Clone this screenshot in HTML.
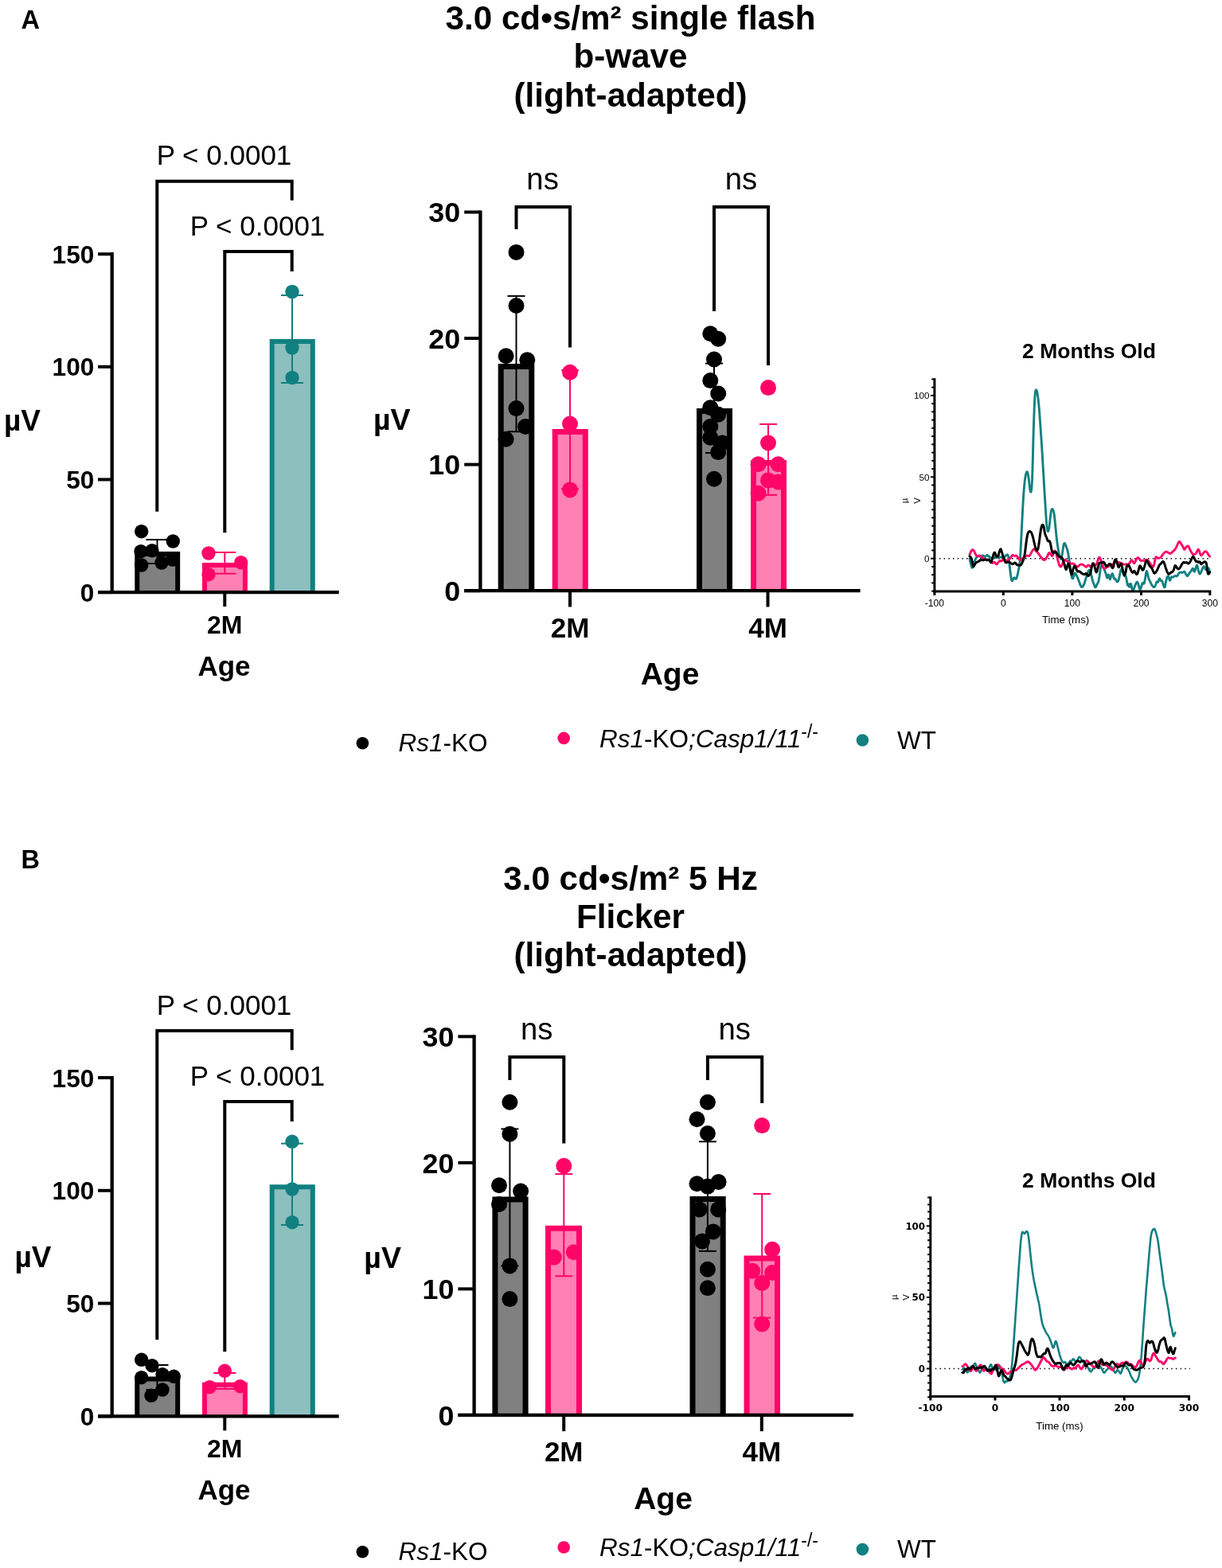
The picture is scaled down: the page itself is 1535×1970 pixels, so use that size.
<!DOCTYPE html>
<html lang="en">
<head>
<meta charset="utf-8">
<title>Light-adapted ERG: single flash b-wave and 5 Hz flicker</title>
<style>
html,body{margin:0;padding:0;background:#fff;}
body{width:1535px;height:1970px;overflow:hidden;}
svg{display:block;font-family:"Liberation Sans",Arial,Helvetica,sans-serif;}
.dv{font-family:"DejaVu Sans","Liberation Sans",sans-serif;}
</style>
</head>
<body>
<svg width="1535" height="1970" viewBox="0 0 1535 1970">
<rect x="0" y="0" width="1535" height="1970" fill="#fff"/>
<text x="26.50" y="36.00" font-size="32.5" font-weight="bold" font-style="normal" text-anchor="start" fill="#000" >A</text>
<text x="26.50" y="1091.00" font-size="32.5" font-weight="bold" font-style="normal" text-anchor="start" fill="#000" >B</text>
<text x="792.00" y="37.00" font-size="42.2" font-weight="bold" font-style="normal" text-anchor="middle" fill="#000" >3.0 cd•s/m² single flash</text>
<text x="792.00" y="85.00" font-size="42.2" font-weight="bold" font-style="normal" text-anchor="middle" fill="#000" >b-wave</text>
<text x="792.00" y="133.50" font-size="42.2" font-weight="bold" font-style="normal" text-anchor="middle" fill="#000" >(light-adapted)</text>
<text x="792.00" y="1117.50" font-size="42.2" font-weight="bold" font-style="normal" text-anchor="middle" fill="#000" >3.0 cd•s/m² 5 Hz</text>
<text x="792.00" y="1165.50" font-size="42.2" font-weight="bold" font-style="normal" text-anchor="middle" fill="#000" >Flicker</text>
<text x="792.00" y="1214.00" font-size="42.2" font-weight="bold" font-style="normal" text-anchor="middle" fill="#000" >(light-adapted)</text>
<rect x="172.30" y="696.00" width="50.90" height="48.10" fill="#808080"/>
<path d="M172.30 744.10 V696.00 H223.20 V744.10" fill="none" stroke="#000" stroke-width="6" stroke-linejoin="miter"/>
<rect x="257.00" y="710.00" width="50.90" height="34.10" fill="#FF80B2"/>
<path d="M257.00 744.10 V710.00 H307.90 V744.10" fill="none" stroke="#FF0568" stroke-width="6" stroke-linejoin="miter"/>
<rect x="341.70" y="429.00" width="51.10" height="315.10" fill="#8CC0BF"/>
<path d="M341.70 744.10 V429.00 H392.80 V744.10" fill="none" stroke="#128080" stroke-width="6" stroke-linejoin="miter"/>
<line x1="140.70" y1="317.10" x2="140.70" y2="744.10" stroke="#000" stroke-width="4.3" stroke-linecap="butt"/>
<line x1="123.00" y1="744.10" x2="425.70" y2="744.10" stroke="#000" stroke-width="4.3" stroke-linecap="butt"/>
<line x1="123.00" y1="744.10" x2="140.70" y2="744.10" stroke="#000" stroke-width="4" stroke-linecap="butt"/>
<text x="118.30" y="755.60" font-size="31.6" font-weight="bold" font-style="normal" text-anchor="end" fill="#000" >0</text>
<line x1="123.00" y1="602.47" x2="140.70" y2="602.47" stroke="#000" stroke-width="4" stroke-linecap="butt"/>
<text x="118.30" y="613.97" font-size="31.6" font-weight="bold" font-style="normal" text-anchor="end" fill="#000" >50</text>
<line x1="123.00" y1="460.83" x2="140.70" y2="460.83" stroke="#000" stroke-width="4" stroke-linecap="butt"/>
<text x="118.30" y="472.33" font-size="31.6" font-weight="bold" font-style="normal" text-anchor="end" fill="#000" >100</text>
<line x1="123.00" y1="319.20" x2="140.70" y2="319.20" stroke="#000" stroke-width="4" stroke-linecap="butt"/>
<text x="118.30" y="330.70" font-size="31.6" font-weight="bold" font-style="normal" text-anchor="end" fill="#000" >150</text>
<line x1="282.30" y1="744.10" x2="282.30" y2="762.10" stroke="#000" stroke-width="4" stroke-linecap="butt"/>
<text x="282.30" y="796.00" font-size="32" font-weight="bold" font-style="normal" text-anchor="middle" fill="#000" >2M</text>
<text x="281.50" y="848.50" font-size="35" font-weight="bold" font-style="normal" text-anchor="middle" fill="#000" >Age</text>
<text x="5.00" y="540.50" font-size="37" font-weight="bold" font-style="normal" text-anchor="start" fill="#000" >µV</text>
<line x1="197.50" y1="678.00" x2="197.50" y2="708.00" stroke="#000" stroke-width="2" stroke-linecap="butt"/>
<line x1="183.50" y1="678.00" x2="211.50" y2="678.00" stroke="#000" stroke-width="2" stroke-linecap="butt"/>
<line x1="183.50" y1="708.00" x2="211.50" y2="708.00" stroke="#000" stroke-width="2" stroke-linecap="butt"/>
<line x1="282.30" y1="694.00" x2="282.30" y2="720.70" stroke="#FF0568" stroke-width="2" stroke-linecap="butt"/>
<line x1="268.30" y1="694.00" x2="296.30" y2="694.00" stroke="#FF0568" stroke-width="2" stroke-linecap="butt"/>
<line x1="268.30" y1="720.70" x2="296.30" y2="720.70" stroke="#FF0568" stroke-width="2" stroke-linecap="butt"/>
<line x1="367.00" y1="371.00" x2="367.00" y2="481.00" stroke="#128080" stroke-width="2" stroke-linecap="butt"/>
<line x1="353.00" y1="371.00" x2="381.00" y2="371.00" stroke="#128080" stroke-width="2" stroke-linecap="butt"/>
<line x1="353.00" y1="481.00" x2="381.00" y2="481.00" stroke="#128080" stroke-width="2" stroke-linecap="butt"/>
<circle cx="177.70" cy="667.70" r="8.7" fill="#000"/>
<circle cx="217.30" cy="680.00" r="8.7" fill="#000"/>
<circle cx="177.00" cy="692.70" r="8.7" fill="#000"/>
<circle cx="191.00" cy="691.70" r="8.7" fill="#000"/>
<circle cx="177.70" cy="710.00" r="8.7" fill="#000"/>
<circle cx="203.00" cy="707.00" r="8.7" fill="#000"/>
<circle cx="216.70" cy="703.00" r="8.7" fill="#000"/>
<circle cx="262.00" cy="695.00" r="8.7" fill="#FF0568"/>
<circle cx="302.70" cy="706.70" r="8.7" fill="#FF0568"/>
<circle cx="262.00" cy="721.70" r="8.7" fill="#FF0568"/>
<circle cx="367.00" cy="366.50" r="8.7" fill="#128080"/>
<circle cx="367.00" cy="437.00" r="8.7" fill="#128080"/>
<circle cx="367.00" cy="474.50" r="8.7" fill="#128080"/>
<path d="M197.30 642.70 V227.70 H366.70 V251.70" fill="none" stroke="#000" stroke-width="4" stroke-linejoin="miter"/>
<text x="281.50" y="207.30" font-size="35" font-weight="normal" font-style="normal" text-anchor="middle" fill="#000" >P &lt; 0.0001</text>
<path d="M282.30 669.30 V316.00 H366.70 V341.00" fill="none" stroke="#000" stroke-width="4" stroke-linejoin="miter"/>
<text x="323.50" y="296.00" font-size="35" font-weight="normal" font-style="normal" text-anchor="middle" fill="#000" >P &lt; 0.0001</text>
<rect x="172.30" y="1732.50" width="50.90" height="46.80" fill="#808080"/>
<path d="M172.30 1779.30 V1732.50 H223.20 V1779.30" fill="none" stroke="#000" stroke-width="6" stroke-linejoin="miter"/>
<rect x="257.00" y="1739.70" width="50.90" height="39.60" fill="#FF80B2"/>
<path d="M257.00 1779.30 V1739.70 H307.90 V1779.30" fill="none" stroke="#FF0568" stroke-width="6" stroke-linejoin="miter"/>
<rect x="341.70" y="1491.30" width="51.10" height="288.00" fill="#8CC0BF"/>
<path d="M341.70 1779.30 V1491.30 H392.80 V1779.30" fill="none" stroke="#128080" stroke-width="6" stroke-linejoin="miter"/>
<line x1="140.70" y1="1351.90" x2="140.70" y2="1779.30" stroke="#000" stroke-width="4.3" stroke-linecap="butt"/>
<line x1="123.00" y1="1779.30" x2="425.70" y2="1779.30" stroke="#000" stroke-width="4.3" stroke-linecap="butt"/>
<line x1="123.00" y1="1779.30" x2="140.70" y2="1779.30" stroke="#000" stroke-width="4" stroke-linecap="butt"/>
<text x="118.30" y="1790.80" font-size="31.6" font-weight="bold" font-style="normal" text-anchor="end" fill="#000" >0</text>
<line x1="123.00" y1="1637.53" x2="140.70" y2="1637.53" stroke="#000" stroke-width="4" stroke-linecap="butt"/>
<text x="118.30" y="1649.03" font-size="31.6" font-weight="bold" font-style="normal" text-anchor="end" fill="#000" >50</text>
<line x1="123.00" y1="1495.77" x2="140.70" y2="1495.77" stroke="#000" stroke-width="4" stroke-linecap="butt"/>
<text x="118.30" y="1507.27" font-size="31.6" font-weight="bold" font-style="normal" text-anchor="end" fill="#000" >100</text>
<line x1="123.00" y1="1354.00" x2="140.70" y2="1354.00" stroke="#000" stroke-width="4" stroke-linecap="butt"/>
<text x="118.30" y="1365.50" font-size="31.6" font-weight="bold" font-style="normal" text-anchor="end" fill="#000" >150</text>
<line x1="282.30" y1="1779.30" x2="282.30" y2="1797.30" stroke="#000" stroke-width="4" stroke-linecap="butt"/>
<text x="282.30" y="1831.00" font-size="32" font-weight="bold" font-style="normal" text-anchor="middle" fill="#000" >2M</text>
<text x="281.50" y="1883.50" font-size="35" font-weight="bold" font-style="normal" text-anchor="middle" fill="#000" >Age</text>
<text x="18.50" y="1591.50" font-size="37" font-weight="bold" font-style="normal" text-anchor="start" fill="#000" >µV</text>
<line x1="197.50" y1="1715.00" x2="197.50" y2="1746.00" stroke="#000" stroke-width="2" stroke-linecap="butt"/>
<line x1="183.50" y1="1715.00" x2="211.50" y2="1715.00" stroke="#000" stroke-width="2" stroke-linecap="butt"/>
<line x1="183.50" y1="1746.00" x2="211.50" y2="1746.00" stroke="#000" stroke-width="2" stroke-linecap="butt"/>
<line x1="282.30" y1="1725.00" x2="282.30" y2="1745.00" stroke="#FF0568" stroke-width="2" stroke-linecap="butt"/>
<line x1="268.30" y1="1725.00" x2="296.30" y2="1725.00" stroke="#FF0568" stroke-width="2" stroke-linecap="butt"/>
<line x1="268.30" y1="1745.00" x2="296.30" y2="1745.00" stroke="#FF0568" stroke-width="2" stroke-linecap="butt"/>
<line x1="367.00" y1="1436.70" x2="367.00" y2="1539.00" stroke="#128080" stroke-width="2" stroke-linecap="butt"/>
<line x1="353.00" y1="1436.70" x2="381.00" y2="1436.70" stroke="#128080" stroke-width="2" stroke-linecap="butt"/>
<line x1="353.00" y1="1539.00" x2="381.00" y2="1539.00" stroke="#128080" stroke-width="2" stroke-linecap="butt"/>
<circle cx="177.70" cy="1708.30" r="8.7" fill="#000"/>
<circle cx="191.00" cy="1715.70" r="8.7" fill="#000"/>
<circle cx="177.70" cy="1730.70" r="8.7" fill="#000"/>
<circle cx="204.00" cy="1726.70" r="8.7" fill="#000"/>
<circle cx="218.30" cy="1729.30" r="8.7" fill="#000"/>
<circle cx="204.00" cy="1746.00" r="8.7" fill="#000"/>
<circle cx="190.00" cy="1753.30" r="8.7" fill="#000"/>
<circle cx="282.30" cy="1722.30" r="8.7" fill="#FF0568"/>
<circle cx="263.30" cy="1742.70" r="8.7" fill="#FF0568"/>
<circle cx="301.70" cy="1741.70" r="8.7" fill="#FF0568"/>
<circle cx="367.00" cy="1434.30" r="8.7" fill="#128080"/>
<circle cx="367.00" cy="1494.00" r="8.7" fill="#128080"/>
<circle cx="367.00" cy="1535.70" r="8.7" fill="#128080"/>
<path d="M197.30 1683.30 V1295.00 H366.70 V1319.30" fill="none" stroke="#000" stroke-width="4" stroke-linejoin="miter"/>
<text x="281.50" y="1275.00" font-size="35" font-weight="normal" font-style="normal" text-anchor="middle" fill="#000" >P &lt; 0.0001</text>
<path d="M282.30 1698.30 V1384.00 H366.70 V1409.00" fill="none" stroke="#000" stroke-width="4" stroke-linejoin="miter"/>
<text x="323.50" y="1364.00" font-size="35" font-weight="normal" font-style="normal" text-anchor="middle" fill="#000" >P &lt; 0.0001</text>
<rect x="629.20" y="460.50" width="38.60" height="281.70" fill="#808080"/>
<path d="M629.20 742.20 V460.50 H667.80 V742.20" fill="none" stroke="#000" stroke-width="7" stroke-linejoin="miter"/>
<rect x="697.20" y="542.50" width="38.10" height="199.70" fill="#FF80B2"/>
<path d="M697.20 742.20 V542.50 H735.30 V742.20" fill="none" stroke="#FF0568" stroke-width="7" stroke-linejoin="miter"/>
<rect x="878.50" y="516.50" width="38.00" height="225.70" fill="#808080"/>
<path d="M878.50 742.20 V516.50 H916.50 V742.20" fill="none" stroke="#000" stroke-width="7" stroke-linejoin="miter"/>
<rect x="946.50" y="581.50" width="38.00" height="160.70" fill="#FF80B2"/>
<path d="M946.50 742.20 V581.50 H984.50 V742.20" fill="none" stroke="#FF0568" stroke-width="7" stroke-linejoin="miter"/>
<line x1="603.40" y1="264.40" x2="603.40" y2="742.20" stroke="#000" stroke-width="4.3" stroke-linecap="butt"/>
<line x1="583.20" y1="742.20" x2="1080.60" y2="742.20" stroke="#000" stroke-width="4.3" stroke-linecap="butt"/>
<line x1="583.20" y1="742.20" x2="603.40" y2="742.20" stroke="#000" stroke-width="4" stroke-linecap="butt"/>
<text x="578.20" y="755.00" font-size="35.8" font-weight="bold" font-style="normal" text-anchor="end" fill="#000" >0</text>
<line x1="583.20" y1="583.63" x2="603.40" y2="583.63" stroke="#000" stroke-width="4" stroke-linecap="butt"/>
<text x="578.20" y="596.43" font-size="35.8" font-weight="bold" font-style="normal" text-anchor="end" fill="#000" >10</text>
<line x1="583.20" y1="425.07" x2="603.40" y2="425.07" stroke="#000" stroke-width="4" stroke-linecap="butt"/>
<text x="578.20" y="437.87" font-size="35.8" font-weight="bold" font-style="normal" text-anchor="end" fill="#000" >20</text>
<line x1="583.20" y1="266.50" x2="603.40" y2="266.50" stroke="#000" stroke-width="4" stroke-linecap="butt"/>
<text x="578.20" y="279.30" font-size="35.8" font-weight="bold" font-style="normal" text-anchor="end" fill="#000" >30</text>
<line x1="716.00" y1="742.20" x2="716.00" y2="762.50" stroke="#000" stroke-width="4" stroke-linecap="butt"/>
<text x="716.00" y="800.80" font-size="35" font-weight="bold" font-style="normal" text-anchor="middle" fill="#000" >2M</text>
<line x1="964.50" y1="742.20" x2="964.50" y2="762.50" stroke="#000" stroke-width="4" stroke-linecap="butt"/>
<text x="964.50" y="800.80" font-size="35" font-weight="bold" font-style="normal" text-anchor="middle" fill="#000" >4M</text>
<text x="841.50" y="859.60" font-size="39" font-weight="bold" font-style="normal" text-anchor="middle" fill="#000" >Age</text>
<text x="469.00" y="540.00" font-size="37.5" font-weight="bold" font-style="normal" text-anchor="start" fill="#000" >µV</text>
<line x1="648.50" y1="371.90" x2="648.50" y2="542.30" stroke="#000" stroke-width="2" stroke-linecap="butt"/>
<line x1="637.50" y1="371.90" x2="659.50" y2="371.90" stroke="#000" stroke-width="2" stroke-linecap="butt"/>
<line x1="637.50" y1="542.30" x2="659.50" y2="542.30" stroke="#000" stroke-width="2" stroke-linecap="butt"/>
<line x1="716.00" y1="465.20" x2="716.00" y2="614.10" stroke="#FF0568" stroke-width="2" stroke-linecap="butt"/>
<line x1="705.00" y1="465.20" x2="727.00" y2="465.20" stroke="#FF0568" stroke-width="2" stroke-linecap="butt"/>
<line x1="705.00" y1="614.10" x2="727.00" y2="614.10" stroke="#FF0568" stroke-width="2" stroke-linecap="butt"/>
<line x1="897.00" y1="456.60" x2="897.00" y2="569.00" stroke="#000" stroke-width="2" stroke-linecap="butt"/>
<line x1="886.00" y1="456.60" x2="908.00" y2="456.60" stroke="#000" stroke-width="2" stroke-linecap="butt"/>
<line x1="886.00" y1="569.00" x2="908.00" y2="569.00" stroke="#000" stroke-width="2" stroke-linecap="butt"/>
<line x1="965.00" y1="532.90" x2="965.00" y2="621.90" stroke="#FF0568" stroke-width="2" stroke-linecap="butt"/>
<line x1="954.00" y1="532.90" x2="976.00" y2="532.90" stroke="#FF0568" stroke-width="2" stroke-linecap="butt"/>
<line x1="954.00" y1="621.90" x2="976.00" y2="621.90" stroke="#FF0568" stroke-width="2" stroke-linecap="butt"/>
<circle cx="648.50" cy="316.90" r="10" fill="#000"/>
<circle cx="648.50" cy="384.00" r="10" fill="#000"/>
<circle cx="635.60" cy="447.20" r="10" fill="#000"/>
<circle cx="662.30" cy="452.30" r="10" fill="#000"/>
<circle cx="648.50" cy="513.10" r="10" fill="#000"/>
<circle cx="660.10" cy="535.90" r="10" fill="#000"/>
<circle cx="635.60" cy="551.80" r="10" fill="#000"/>
<circle cx="716.00" cy="467.80" r="10" fill="#FF0568"/>
<circle cx="716.00" cy="532.50" r="10" fill="#FF0568"/>
<circle cx="716.00" cy="615.40" r="10" fill="#FF0568"/>
<circle cx="892.30" cy="419.20" r="10" fill="#000"/>
<circle cx="902.20" cy="425.70" r="10" fill="#000"/>
<circle cx="897.00" cy="451.50" r="10" fill="#000"/>
<circle cx="892.30" cy="478.10" r="10" fill="#000"/>
<circle cx="902.20" cy="494.50" r="10" fill="#000"/>
<circle cx="892.30" cy="512.20" r="10" fill="#000"/>
<circle cx="902.20" cy="520.80" r="10" fill="#000"/>
<circle cx="892.30" cy="535.90" r="10" fill="#000"/>
<circle cx="892.30" cy="549.70" r="10" fill="#000"/>
<circle cx="907.40" cy="556.50" r="10" fill="#000"/>
<circle cx="902.20" cy="568.10" r="10" fill="#000"/>
<circle cx="897.00" cy="601.70" r="10" fill="#000"/>
<circle cx="965.00" cy="487.10" r="10" fill="#FF0568"/>
<circle cx="965.00" cy="556.50" r="10" fill="#FF0568"/>
<circle cx="952.50" cy="583.20" r="10" fill="#FF0568"/>
<circle cx="977.50" cy="583.20" r="10" fill="#FF0568"/>
<circle cx="965.00" cy="603.40" r="10" fill="#FF0568"/>
<circle cx="977.50" cy="605.50" r="10" fill="#FF0568"/>
<circle cx="952.50" cy="619.70" r="10" fill="#FF0568"/>
<text x="681.60" y="237.80" font-size="38.3" font-weight="normal" font-style="normal" text-anchor="middle" fill="#000" >ns</text>
<text x="931.00" y="237.80" font-size="38.3" font-weight="normal" font-style="normal" text-anchor="middle" fill="#000" >ns</text>
<path d="M648.50 288.00 V260.00 H716.00 V436.40" fill="none" stroke="#000" stroke-width="4" stroke-linejoin="miter"/>
<path d="M897.00 391.00 V260.00 H965.00 V459.00" fill="none" stroke="#000" stroke-width="4" stroke-linejoin="miter"/>
<rect x="621.90" y="1507.00" width="38.20" height="270.90" fill="#808080"/>
<path d="M621.90 1777.90 V1507.00 H660.10 V1777.90" fill="none" stroke="#000" stroke-width="7" stroke-linejoin="miter"/>
<rect x="688.50" y="1543.20" width="39.00" height="234.70" fill="#FF80B2"/>
<path d="M688.50 1777.90 V1543.20 H727.50 V1777.90" fill="none" stroke="#FF0568" stroke-width="7" stroke-linejoin="miter"/>
<rect x="870.00" y="1506.50" width="38.20" height="271.40" fill="#808080"/>
<path d="M870.00 1777.90 V1506.50 H908.20 V1777.90" fill="none" stroke="#000" stroke-width="7" stroke-linejoin="miter"/>
<rect x="938.00" y="1581.00" width="38.50" height="196.90" fill="#FF80B2"/>
<path d="M938.00 1777.90 V1581.00 H976.50 V1777.90" fill="none" stroke="#FF0568" stroke-width="7" stroke-linejoin="miter"/>
<line x1="595.60" y1="1300.20" x2="595.60" y2="1777.90" stroke="#000" stroke-width="4.3" stroke-linecap="butt"/>
<line x1="575.40" y1="1777.90" x2="1072.00" y2="1777.90" stroke="#000" stroke-width="4.3" stroke-linecap="butt"/>
<line x1="575.40" y1="1777.90" x2="595.60" y2="1777.90" stroke="#000" stroke-width="4" stroke-linecap="butt"/>
<text x="570.40" y="1790.70" font-size="35.8" font-weight="bold" font-style="normal" text-anchor="end" fill="#000" >0</text>
<line x1="575.40" y1="1619.37" x2="595.60" y2="1619.37" stroke="#000" stroke-width="4" stroke-linecap="butt"/>
<text x="570.40" y="1632.17" font-size="35.8" font-weight="bold" font-style="normal" text-anchor="end" fill="#000" >10</text>
<line x1="575.40" y1="1460.83" x2="595.60" y2="1460.83" stroke="#000" stroke-width="4" stroke-linecap="butt"/>
<text x="570.40" y="1473.63" font-size="35.8" font-weight="bold" font-style="normal" text-anchor="end" fill="#000" >20</text>
<line x1="575.40" y1="1302.30" x2="595.60" y2="1302.30" stroke="#000" stroke-width="4" stroke-linecap="butt"/>
<text x="570.40" y="1315.10" font-size="35.8" font-weight="bold" font-style="normal" text-anchor="end" fill="#000" >30</text>
<line x1="708.20" y1="1777.90" x2="708.20" y2="1798.20" stroke="#000" stroke-width="4" stroke-linecap="butt"/>
<text x="708.20" y="1836.30" font-size="35" font-weight="bold" font-style="normal" text-anchor="middle" fill="#000" >2M</text>
<line x1="956.80" y1="1777.90" x2="956.80" y2="1798.20" stroke="#000" stroke-width="4" stroke-linecap="butt"/>
<text x="956.80" y="1836.30" font-size="35" font-weight="bold" font-style="normal" text-anchor="middle" fill="#000" >4M</text>
<text x="833.00" y="1895.70" font-size="39" font-weight="bold" font-style="normal" text-anchor="middle" fill="#000" >Age</text>
<text x="457.30" y="1592.50" font-size="37.5" font-weight="bold" font-style="normal" text-anchor="start" fill="#000" >µV</text>
<line x1="640.40" y1="1418.40" x2="640.40" y2="1590.40" stroke="#000" stroke-width="2" stroke-linecap="butt"/>
<line x1="629.40" y1="1418.40" x2="651.40" y2="1418.40" stroke="#000" stroke-width="2" stroke-linecap="butt"/>
<line x1="629.40" y1="1590.40" x2="651.40" y2="1590.40" stroke="#000" stroke-width="2" stroke-linecap="butt"/>
<line x1="708.30" y1="1475.10" x2="708.30" y2="1603.30" stroke="#FF0568" stroke-width="2" stroke-linecap="butt"/>
<line x1="697.30" y1="1475.10" x2="719.30" y2="1475.10" stroke="#FF0568" stroke-width="2" stroke-linecap="butt"/>
<line x1="697.30" y1="1603.30" x2="719.30" y2="1603.30" stroke="#FF0568" stroke-width="2" stroke-linecap="butt"/>
<line x1="888.90" y1="1434.30" x2="888.90" y2="1571.90" stroke="#000" stroke-width="2" stroke-linecap="butt"/>
<line x1="877.90" y1="1434.30" x2="899.90" y2="1434.30" stroke="#000" stroke-width="2" stroke-linecap="butt"/>
<line x1="877.90" y1="1571.90" x2="899.90" y2="1571.90" stroke="#000" stroke-width="2" stroke-linecap="butt"/>
<line x1="957.20" y1="1500.00" x2="957.20" y2="1655.70" stroke="#FF0568" stroke-width="2" stroke-linecap="butt"/>
<line x1="946.20" y1="1500.00" x2="968.20" y2="1500.00" stroke="#FF0568" stroke-width="2" stroke-linecap="butt"/>
<line x1="946.20" y1="1655.70" x2="968.20" y2="1655.70" stroke="#FF0568" stroke-width="2" stroke-linecap="butt"/>
<circle cx="640.40" cy="1384.80" r="10" fill="#000"/>
<circle cx="640.40" cy="1424.80" r="10" fill="#000"/>
<circle cx="627.00" cy="1489.30" r="10" fill="#000"/>
<circle cx="654.10" cy="1496.60" r="10" fill="#000"/>
<circle cx="627.00" cy="1513.00" r="10" fill="#000"/>
<circle cx="640.40" cy="1590.40" r="10" fill="#000"/>
<circle cx="640.40" cy="1632.10" r="10" fill="#000"/>
<circle cx="708.30" cy="1464.80" r="10" fill="#FF0568"/>
<circle cx="695.80" cy="1579.60" r="10" fill="#FF0568"/>
<circle cx="720.80" cy="1573.20" r="10" fill="#FF0568"/>
<circle cx="888.90" cy="1384.80" r="10" fill="#000"/>
<circle cx="875.50" cy="1406.30" r="10" fill="#000"/>
<circle cx="888.90" cy="1424.00" r="10" fill="#000"/>
<circle cx="875.50" cy="1487.20" r="10" fill="#000"/>
<circle cx="888.90" cy="1490.60" r="10" fill="#000"/>
<circle cx="902.60" cy="1485.00" r="10" fill="#000"/>
<circle cx="878.60" cy="1519.40" r="10" fill="#000"/>
<circle cx="902.20" cy="1519.40" r="10" fill="#000"/>
<circle cx="895.80" cy="1547.40" r="10" fill="#000"/>
<circle cx="882.00" cy="1559.40" r="10" fill="#000"/>
<circle cx="888.90" cy="1594.70" r="10" fill="#000"/>
<circle cx="888.90" cy="1618.30" r="10" fill="#000"/>
<circle cx="957.20" cy="1414.10" r="10" fill="#FF0568"/>
<circle cx="970.10" cy="1569.80" r="10" fill="#FF0568"/>
<circle cx="945.20" cy="1596.80" r="10" fill="#FF0568"/>
<circle cx="970.10" cy="1599.00" r="10" fill="#FF0568"/>
<circle cx="957.20" cy="1611.90" r="10" fill="#FF0568"/>
<circle cx="957.20" cy="1663.50" r="10" fill="#FF0568"/>
<text x="674.30" y="1305.70" font-size="38.3" font-weight="normal" font-style="normal" text-anchor="middle" fill="#000" >ns</text>
<text x="922.80" y="1305.70" font-size="38.3" font-weight="normal" font-style="normal" text-anchor="middle" fill="#000" >ns</text>
<path d="M640.40 1356.90 V1328.00 H708.30 V1436.40" fill="none" stroke="#000" stroke-width="4" stroke-linejoin="miter"/>
<path d="M888.90 1357.00 V1328.00 H957.20 V1386.10" fill="none" stroke="#000" stroke-width="4" stroke-linejoin="miter"/>
<circle cx="455.40" cy="933.70" r="7.8" fill="#000"/>
<circle cx="708.20" cy="927.40" r="7.8" fill="#FF0568"/>
<circle cx="1083.40" cy="930.00" r="7.8" fill="#128080"/>
<text x="500.50" y="944.00" font-size="31.5" font-weight="normal" font-style="normal" text-anchor="start" fill="#000" ><tspan font-style="italic">Rs1</tspan>-KO</text>
<text x="753.00" y="939.00" font-size="31.5" font-weight="normal" font-style="normal" text-anchor="start" fill="#000" ><tspan font-style="italic">Rs1</tspan>-KO<tspan font-style="italic">;Casp1/11</tspan><tspan font-size="23" dy="-12.5">-/-</tspan></text>
<text x="1127.00" y="940.50" font-size="31.5" font-weight="normal" font-style="normal" text-anchor="start" fill="#000" >WT</text>
<circle cx="455.40" cy="1949.70" r="7.8" fill="#000"/>
<circle cx="708.20" cy="1944.00" r="7.8" fill="#FF0568"/>
<circle cx="1083.40" cy="1946.60" r="7.8" fill="#128080"/>
<text x="500.50" y="1960.00" font-size="31.5" font-weight="normal" font-style="normal" text-anchor="start" fill="#000" ><tspan font-style="italic">Rs1</tspan>-KO</text>
<text x="753.00" y="1955.00" font-size="31.5" font-weight="normal" font-style="normal" text-anchor="start" fill="#000" ><tspan font-style="italic">Rs1</tspan>-KO<tspan font-style="italic">;Casp1/11</tspan><tspan font-size="23" dy="-12.5">-/-</tspan></text>
<text x="1127.00" y="1957.00" font-size="31.5" font-weight="normal" font-style="normal" text-anchor="start" fill="#000" >WT</text>
<line x1="1179.9" y1="701.70" x2="1521.3" y2="701.70" stroke="#000" stroke-width="1.4" stroke-dasharray="1.5 4.2"/>
<path d="M1218.0 701.8Q1219.9 711.4 1220.8 712.9Q1221.8 714.3 1222.7 710.7Q1223.6 707.0 1225.0 703.3Q1226.5 699.6 1228.0 698.9Q1229.4 698.1 1230.5 698.9Q1231.6 699.6 1233.1 698.5Q1234.6 697.4 1236.1 698.9Q1237.5 700.4 1238.6 698.5Q1239.7 696.7 1241.2 698.1Q1242.7 699.6 1244.2 700.7Q1245.6 701.8 1247.1 700.7Q1248.6 699.6 1250.0 700.4Q1251.5 701.1 1253.0 700.0Q1254.5 698.9 1255.9 699.6Q1257.4 700.4 1258.9 700.7Q1260.3 701.1 1261.8 699.6Q1263.3 698.1 1264.8 697.0Q1266.2 695.9 1267.0 700.7Q1267.7 705.5 1268.4 712.9Q1269.2 720.2 1270.1 726.0Q1270.9 731.7 1271.9 729.3Q1272.9 726.8 1273.6 726.1Q1274.3 725.4 1275.3 726.8Q1276.2 728.3 1277.1 725.7Q1278.0 723.2 1279.1 718.0Q1280.2 712.9 1281.0 706.2Q1281.7 699.6 1282.4 684.2Q1283.2 668.7 1284.3 646.6Q1285.4 624.5 1286.5 612.0Q1287.6 599.5 1288.8 595.1Q1290.1 590.7 1291.0 594.4Q1292.0 598.1 1293.1 609.1Q1294.2 620.1 1295.1 617.9Q1296.0 615.7 1296.6 601.7Q1297.1 587.8 1297.7 562.0Q1298.3 536.2 1299.1 516.4Q1299.8 496.5 1300.5 492.4Q1301.3 488.4 1302.1 490.6Q1303.0 492.8 1303.9 499.8Q1304.8 506.8 1305.8 519.3Q1306.7 531.8 1307.8 548.0Q1308.9 564.2 1310.0 583.3Q1311.1 602.5 1312.2 620.9Q1313.3 639.3 1314.2 652.5Q1315.1 665.8 1316.1 667.2Q1317.0 668.7 1317.8 663.6Q1318.5 658.4 1319.2 651.0Q1320.0 643.7 1320.7 641.1Q1321.4 638.5 1322.5 640.0Q1323.6 641.5 1324.4 647.7Q1325.1 654.0 1326.0 663.6Q1326.9 673.1 1327.8 680.5Q1328.8 687.8 1329.9 693.7Q1331.0 699.6 1332.1 701.8Q1333.2 704.0 1333.9 698.9Q1334.7 693.7 1335.4 688.6Q1336.1 683.4 1336.9 682.7Q1337.6 682.0 1338.4 684.2Q1339.1 686.4 1340.2 689.3Q1341.3 692.3 1342.0 696.7Q1342.8 701.1 1343.5 706.2Q1344.2 711.4 1345.0 717.3Q1345.7 723.2 1346.5 725.7Q1347.2 728.3 1348.1 725.7Q1349.0 723.2 1349.7 721.0Q1350.4 718.7 1351.4 721.0Q1352.3 723.2 1353.4 725.4Q1354.5 727.6 1355.7 731.3Q1356.8 734.9 1357.9 736.8Q1359.0 738.6 1360.6 736.1Q1362.3 733.5 1363.4 728.9Q1364.6 724.4 1365.7 720.9Q1366.8 717.5 1368.0 716.4Q1369.1 715.2 1370.0 718.7Q1370.8 722.1 1371.7 726.1Q1372.5 730.1 1373.4 732.3Q1374.3 734.6 1375.1 736.9Q1376.0 739.2 1376.8 736.9Q1377.7 734.6 1378.8 732.9Q1380.0 731.2 1380.8 725.5Q1381.7 719.8 1382.2 715.2Q1382.8 710.7 1383.7 709.5Q1384.5 708.4 1385.4 710.7Q1386.2 713.0 1387.1 715.2Q1387.9 717.5 1388.8 719.8Q1389.6 722.1 1390.2 724.9Q1390.8 727.8 1391.6 723.8Q1392.5 719.8 1393.3 724.9Q1394.2 730.1 1395.1 726.1Q1395.9 722.1 1396.8 720.9Q1397.6 719.8 1398.5 723.8Q1399.3 727.8 1400.2 727.2Q1401.0 726.6 1402.2 729.5Q1403.3 732.3 1404.5 730.1Q1405.6 727.8 1406.5 722.7Q1407.3 717.5 1408.2 715.8Q1409.0 714.1 1409.9 717.0Q1410.7 719.8 1411.6 722.1Q1412.4 724.4 1413.3 723.8Q1414.2 723.2 1414.7 726.1Q1415.3 728.9 1415.9 732.9Q1416.4 736.9 1417.0 734.6Q1417.6 732.3 1418.1 735.8Q1418.7 739.2 1419.6 735.2Q1420.4 731.2 1421.3 736.3Q1422.1 741.5 1422.7 742.0Q1423.3 742.6 1424.1 740.3Q1425.0 738.1 1425.8 735.8Q1426.7 733.5 1427.6 731.8Q1428.4 730.1 1429.3 732.3Q1430.1 734.6 1431.0 738.1Q1431.8 741.5 1432.7 739.8Q1433.5 738.1 1434.4 734.6Q1435.2 731.2 1436.1 732.9Q1437.0 734.6 1437.8 730.6Q1438.7 726.6 1439.2 722.1Q1439.8 717.5 1440.4 717.5Q1440.9 717.5 1441.8 722.1Q1442.7 726.6 1443.5 728.4Q1444.4 730.1 1445.5 732.3Q1446.6 734.6 1447.8 736.3Q1448.9 738.1 1450.1 737.5Q1451.2 736.9 1452.1 733.5Q1452.9 730.1 1453.8 731.2Q1454.6 732.3 1455.5 728.9Q1456.3 725.5 1457.2 727.8Q1458.1 730.1 1458.9 729.5Q1459.8 728.9 1460.6 732.3Q1461.5 735.8 1462.3 737.5Q1463.2 739.2 1463.8 735.2Q1464.3 731.2 1465.2 727.8Q1466.0 724.4 1466.9 723.8Q1467.7 723.2 1468.6 727.2Q1469.5 731.2 1470.3 727.8Q1471.2 724.4 1472.0 724.9Q1472.9 725.5 1473.7 724.9Q1474.6 724.4 1475.4 723.8Q1476.3 723.2 1477.4 723.8Q1478.6 724.4 1479.7 722.1Q1480.9 719.8 1482.0 719.2Q1483.1 718.7 1484.3 719.2Q1485.4 719.8 1486.6 718.7Q1487.7 717.5 1488.8 719.8Q1490.0 722.1 1490.8 723.2Q1491.7 724.4 1492.5 722.7Q1493.4 720.9 1494.2 719.8Q1495.1 718.7 1496.0 717.5Q1496.8 716.4 1497.7 714.7Q1498.5 713.0 1499.4 716.4Q1500.2 719.8 1501.1 717.0Q1501.9 714.1 1502.8 711.3Q1503.7 708.4 1504.5 713.0Q1505.4 717.5 1506.2 719.8Q1507.1 722.1 1507.9 720.4Q1508.8 718.7 1509.6 716.4Q1510.5 714.1 1511.4 712.4Q1512.2 710.7 1513.1 713.0Q1513.9 715.2 1514.8 715.8Q1515.6 716.4 1516.5 714.7Q1517.3 713.0 1518.2 714.1Q1519.0 715.2 1519.3 717.5L1519.6 719.8" fill="none" stroke="#128080" stroke-width="2.9" stroke-linejoin="round" stroke-linecap="round"/>
<path d="M1218.0 696.7Q1219.9 692.3 1220.8 691.2Q1221.8 690.0 1222.7 691.2Q1223.6 692.3 1224.7 694.8Q1225.8 697.4 1226.9 698.5Q1228.0 699.6 1229.1 698.5Q1230.2 697.4 1231.3 698.5Q1232.4 699.6 1233.9 700.7Q1235.3 701.8 1236.8 702.6Q1238.3 703.3 1239.7 702.9Q1241.2 702.6 1242.7 704.0Q1244.2 705.5 1245.6 706.6Q1247.1 707.7 1248.2 706.6Q1249.3 705.5 1250.4 707.7Q1251.5 709.9 1252.6 708.4Q1253.7 707.0 1254.8 705.5Q1255.9 704.0 1257.0 704.8Q1258.1 705.5 1259.2 703.7Q1260.3 701.8 1261.8 702.6Q1263.3 703.3 1264.4 704.4Q1265.5 705.5 1266.6 704.0Q1267.7 702.6 1268.8 701.5Q1269.9 700.4 1271.0 698.5Q1272.1 696.7 1273.2 697.8Q1274.3 698.9 1275.4 698.1Q1276.5 697.4 1278.0 699.6Q1279.5 701.8 1280.6 702.9Q1281.7 704.0 1283.2 702.6Q1284.6 701.1 1285.7 700.7Q1286.8 700.4 1288.3 698.9Q1289.8 697.4 1290.9 698.1Q1292.0 698.9 1293.1 698.1Q1294.2 697.4 1295.3 694.8Q1296.4 692.3 1297.5 690.8Q1298.6 689.3 1299.7 690.4Q1300.8 691.5 1301.9 692.6Q1303.0 693.7 1304.1 695.2Q1305.2 696.7 1306.3 698.1Q1307.4 699.6 1308.6 701.1Q1309.7 702.6 1310.8 703.3Q1311.9 704.0 1313.0 702.9Q1314.1 701.8 1315.2 699.6Q1316.3 697.4 1317.0 695.6Q1317.8 693.7 1318.9 695.2Q1320.0 696.7 1321.1 698.1Q1322.2 699.6 1323.3 695.2Q1324.4 690.8 1325.5 692.3Q1326.6 693.7 1327.3 697.4Q1328.1 701.1 1329.2 705.5Q1330.3 709.9 1331.4 711.4Q1332.5 712.9 1333.6 710.7Q1334.7 708.4 1335.8 705.5Q1336.9 702.6 1338.0 703.3Q1339.1 704.0 1340.2 704.8Q1341.3 705.5 1342.4 706.2Q1343.5 707.0 1344.6 707.7Q1345.7 708.4 1346.8 708.1Q1347.9 707.7 1349.0 708.8Q1350.1 709.9 1351.6 711.4Q1353.1 712.9 1354.5 711.4Q1356.0 709.9 1357.1 709.2Q1358.2 708.4 1360.3 709.6Q1362.3 710.7 1363.4 711.8Q1364.6 713.0 1365.7 711.3Q1366.8 709.5 1367.7 710.1Q1368.6 710.7 1369.4 711.8Q1370.3 713.0 1371.1 711.8Q1372.0 710.7 1372.8 710.1Q1373.7 709.5 1374.8 710.1Q1376.0 710.7 1377.1 709.0Q1378.2 707.3 1379.1 703.8Q1380.0 700.4 1380.8 700.1Q1381.7 699.9 1382.5 702.4Q1383.4 705.0 1384.2 709.0Q1385.1 713.0 1386.2 713.8Q1387.4 714.7 1388.5 713.8Q1389.6 713.0 1390.8 712.4Q1391.9 711.8 1393.1 711.3Q1394.2 710.7 1395.3 710.1Q1396.5 709.5 1397.6 709.0Q1398.8 708.4 1399.9 707.3Q1401.0 706.1 1402.2 706.7Q1403.3 707.3 1404.5 706.7Q1405.6 706.1 1406.7 706.7Q1407.9 707.3 1409.0 707.8Q1410.2 708.4 1411.3 709.0Q1412.4 709.5 1413.6 709.0Q1414.7 708.4 1415.9 709.0Q1417.0 709.5 1418.1 708.4Q1419.3 707.3 1420.4 705.0Q1421.6 702.7 1422.4 704.4Q1423.3 706.1 1424.1 707.3Q1425.0 708.4 1425.8 706.1Q1426.7 703.8 1427.6 702.4Q1428.4 701.0 1429.3 700.7Q1430.1 700.4 1431.0 701.9Q1431.8 703.3 1432.7 704.1Q1433.5 705.0 1434.4 704.4Q1435.2 703.8 1436.4 704.4Q1437.5 705.0 1438.7 703.8Q1439.8 702.7 1440.9 703.3Q1442.1 703.8 1443.2 705.6Q1444.4 707.3 1445.5 709.0Q1446.6 710.7 1447.8 711.8Q1448.9 713.0 1449.8 709.0Q1450.6 705.0 1451.2 702.1Q1451.8 699.3 1452.6 699.9Q1453.5 700.4 1454.6 701.0Q1455.8 701.6 1456.9 701.0Q1458.1 700.4 1459.2 698.7Q1460.3 697.0 1461.5 695.6Q1462.6 694.2 1463.5 693.6Q1464.3 693.0 1465.5 693.3Q1466.6 693.6 1468.0 694.7Q1469.5 695.9 1470.6 695.3Q1471.7 694.7 1472.9 693.3Q1474.0 691.9 1475.2 691.0Q1476.3 690.2 1477.4 687.9Q1478.6 685.6 1479.7 682.8Q1480.9 679.9 1481.7 680.5Q1482.6 681.0 1483.4 682.8Q1484.3 684.5 1485.1 685.6Q1486.0 686.7 1486.8 689.0Q1487.7 691.3 1488.5 689.6Q1489.4 687.9 1490.3 687.0Q1491.1 686.2 1492.0 685.9Q1492.8 685.6 1493.7 687.9Q1494.5 690.2 1495.7 692.4Q1496.8 694.7 1498.0 695.9Q1499.1 697.0 1500.2 696.4Q1501.4 695.9 1502.2 695.3Q1503.1 694.7 1503.9 692.2Q1504.8 689.6 1505.7 690.5Q1506.5 691.3 1507.1 694.2Q1507.6 697.0 1508.5 697.6Q1509.4 698.1 1510.5 696.4Q1511.6 694.7 1512.8 693.6Q1513.9 692.4 1515.1 693.0Q1516.2 693.6 1517.1 695.3Q1517.9 697.0 1518.8 698.1L1519.6 699.3" fill="none" stroke="#FF0568" stroke-width="2.9" stroke-linejoin="round" stroke-linecap="round"/>
<path d="M1218.0 698.9Q1219.9 699.6 1220.8 704.0Q1221.8 708.4 1222.3 710.7Q1222.8 712.9 1223.6 711.0Q1224.3 709.2 1225.4 707.7Q1226.5 706.2 1228.0 705.9Q1229.4 705.5 1230.5 704.4Q1231.6 703.3 1233.1 703.7Q1234.6 704.0 1236.1 703.3Q1237.5 702.6 1238.6 703.3Q1239.7 704.0 1241.2 703.3Q1242.7 702.6 1243.8 705.5Q1244.9 708.4 1246.0 704.0Q1247.1 699.6 1248.2 695.9Q1249.3 692.3 1250.4 695.9Q1251.5 699.6 1252.6 699.6Q1253.7 699.6 1254.8 695.2Q1255.9 690.8 1256.7 690.0Q1257.4 689.3 1258.1 692.3Q1258.9 695.2 1260.0 698.9Q1261.1 702.6 1262.2 705.1Q1263.3 707.7 1264.8 706.6Q1266.2 705.5 1267.7 706.2Q1269.2 707.0 1270.7 708.1Q1272.1 709.2 1273.6 707.7Q1275.1 706.2 1276.2 708.1Q1277.3 709.9 1278.7 709.9Q1280.2 709.9 1281.3 710.3Q1282.4 710.7 1283.5 708.1Q1284.6 705.5 1285.7 702.6Q1286.8 699.6 1287.6 693.7Q1288.3 687.8 1289.0 682.0Q1289.8 676.1 1290.5 672.4Q1291.3 668.7 1292.4 668.0Q1293.5 667.2 1294.6 668.0Q1295.7 668.7 1296.8 672.4Q1297.9 676.1 1299.0 681.2Q1300.1 686.4 1301.0 689.3Q1301.9 692.3 1302.8 691.5Q1303.8 690.8 1304.5 686.4Q1305.2 682.0 1306.0 676.1Q1306.7 670.2 1307.4 665.8Q1308.2 661.3 1308.9 659.9Q1309.7 658.4 1310.4 659.9Q1311.1 661.3 1311.9 666.5Q1312.6 671.6 1313.7 673.5Q1314.8 675.3 1315.5 677.9Q1316.3 680.5 1317.4 679.7Q1318.5 679.0 1319.2 682.0Q1320.0 684.9 1320.7 689.3Q1321.4 693.7 1322.5 694.5Q1323.6 695.2 1324.7 693.7Q1325.8 692.3 1327.0 694.5Q1328.1 696.7 1329.2 698.1Q1330.3 699.6 1331.4 699.6Q1332.5 699.6 1333.6 700.4Q1334.7 701.1 1335.8 704.8Q1336.9 708.4 1338.0 712.9Q1339.1 717.3 1339.8 714.3Q1340.6 711.4 1341.3 709.2Q1342.0 707.0 1342.8 709.2Q1343.5 711.4 1344.2 715.1Q1345.0 718.7 1345.7 721.0Q1346.5 723.2 1347.2 718.7Q1347.9 714.3 1349.0 712.1Q1350.1 709.9 1350.9 712.1Q1351.6 714.3 1352.7 716.5Q1353.8 718.7 1354.9 718.0Q1356.0 717.3 1357.1 718.7Q1358.2 720.2 1360.3 721.2Q1362.3 722.1 1363.4 720.9Q1364.6 719.8 1365.7 722.1Q1366.8 724.4 1367.7 723.2Q1368.6 722.1 1369.4 720.4Q1370.3 718.7 1371.1 713.5Q1372.0 708.4 1372.8 707.8Q1373.7 707.3 1374.5 710.1Q1375.4 713.0 1376.2 717.0Q1377.1 720.9 1378.0 717.5Q1378.8 714.1 1379.7 710.7Q1380.5 707.3 1381.7 707.0Q1382.8 706.7 1383.7 707.0Q1384.5 707.3 1385.4 706.4Q1386.2 705.6 1387.1 707.0Q1387.9 708.4 1388.8 710.1Q1389.6 711.8 1390.5 711.3Q1391.4 710.7 1392.2 709.5Q1393.1 708.4 1394.2 708.4Q1395.3 708.4 1396.2 711.3Q1397.1 714.1 1397.9 713.5Q1398.8 713.0 1399.3 708.4Q1399.9 703.8 1400.8 703.0Q1401.6 702.1 1402.5 704.7Q1403.3 707.3 1404.2 710.7Q1405.0 714.1 1405.9 711.8Q1406.7 709.5 1407.6 708.4Q1408.5 707.3 1409.3 711.3Q1410.2 715.2 1411.3 719.8Q1412.4 724.4 1413.3 721.5Q1414.2 718.7 1414.7 714.7Q1415.3 710.7 1416.4 710.1Q1417.6 709.5 1418.4 711.3Q1419.3 713.0 1420.4 715.8Q1421.6 718.7 1422.4 719.2Q1423.3 719.8 1424.1 718.1Q1425.0 716.4 1425.8 718.7Q1426.7 720.9 1427.6 721.5Q1428.4 722.1 1429.3 719.2Q1430.1 716.4 1431.0 713.0Q1431.8 709.5 1432.7 711.3Q1433.5 713.0 1434.4 715.2Q1435.2 717.5 1436.4 715.2Q1437.5 713.0 1438.4 709.0Q1439.2 705.0 1440.1 704.4Q1440.9 703.8 1441.8 706.1Q1442.7 708.4 1443.5 710.1Q1444.4 711.8 1445.5 712.4Q1446.6 713.0 1447.5 715.2Q1448.4 717.5 1449.2 719.2Q1450.1 720.9 1451.2 719.8Q1452.3 718.7 1453.5 716.4Q1454.6 714.1 1455.5 711.8Q1456.3 709.5 1457.2 709.0Q1458.1 708.4 1458.9 707.3Q1459.8 706.1 1460.6 705.6Q1461.5 705.0 1462.3 707.3Q1463.2 709.5 1464.0 712.4Q1464.9 715.2 1465.7 717.5Q1466.6 719.8 1467.5 720.7Q1468.3 721.5 1469.2 720.7Q1470.0 719.8 1471.2 719.2Q1472.3 718.7 1473.2 718.1Q1474.0 717.5 1474.6 715.2Q1475.2 713.0 1475.7 711.3Q1476.3 709.5 1477.1 711.3Q1478.0 713.0 1478.9 714.1Q1479.7 715.2 1480.9 714.7Q1482.0 714.1 1482.8 712.4Q1483.7 710.7 1484.6 709.0Q1485.4 707.3 1486.3 706.7Q1487.1 706.1 1488.0 706.7Q1488.8 707.3 1489.7 706.7Q1490.5 706.1 1491.4 707.3Q1492.3 708.4 1493.1 707.8Q1494.0 707.3 1494.8 706.1Q1495.7 705.0 1496.5 702.7Q1497.4 700.4 1498.2 699.6Q1499.1 698.7 1499.9 700.7Q1500.8 702.7 1501.7 704.4Q1502.5 706.1 1503.4 705.6Q1504.2 705.0 1505.1 706.1Q1505.9 707.3 1506.5 706.1Q1507.1 705.0 1507.9 707.3Q1508.8 709.5 1509.6 708.4Q1510.5 707.3 1511.4 706.7Q1512.2 706.1 1513.3 705.8Q1514.5 705.6 1515.1 707.0Q1515.6 708.4 1516.2 713.5Q1516.8 718.7 1517.3 720.4Q1517.9 722.1 1518.8 720.4L1519.6 718.7" fill="none" stroke="#000" stroke-width="3.0" stroke-linejoin="round" stroke-linecap="round"/>
<line x1="1173.90" y1="475.20" x2="1173.90" y2="744.50" stroke="#000" stroke-width="3" stroke-linecap="butt"/>
<line x1="1172.40" y1="743.00" x2="1521.30" y2="743.00" stroke="#000" stroke-width="3" stroke-linecap="butt"/>
<line x1="1170.20" y1="742.66" x2="1173.90" y2="742.66" stroke="#000" stroke-width="2.0" stroke-linecap="butt"/>
<line x1="1170.20" y1="732.42" x2="1173.90" y2="732.42" stroke="#000" stroke-width="2.0" stroke-linecap="butt"/>
<line x1="1170.20" y1="722.18" x2="1173.90" y2="722.18" stroke="#000" stroke-width="2.0" stroke-linecap="butt"/>
<line x1="1170.20" y1="711.94" x2="1173.90" y2="711.94" stroke="#000" stroke-width="2.0" stroke-linecap="butt"/>
<line x1="1168.90" y1="701.70" x2="1173.90" y2="701.70" stroke="#000" stroke-width="2.0" stroke-linecap="butt"/>
<line x1="1170.20" y1="691.46" x2="1173.90" y2="691.46" stroke="#000" stroke-width="2.0" stroke-linecap="butt"/>
<line x1="1170.20" y1="681.22" x2="1173.90" y2="681.22" stroke="#000" stroke-width="2.0" stroke-linecap="butt"/>
<line x1="1170.20" y1="670.98" x2="1173.90" y2="670.98" stroke="#000" stroke-width="2.0" stroke-linecap="butt"/>
<line x1="1170.20" y1="660.74" x2="1173.90" y2="660.74" stroke="#000" stroke-width="2.0" stroke-linecap="butt"/>
<line x1="1170.20" y1="650.50" x2="1173.90" y2="650.50" stroke="#000" stroke-width="2.0" stroke-linecap="butt"/>
<line x1="1170.20" y1="640.26" x2="1173.90" y2="640.26" stroke="#000" stroke-width="2.0" stroke-linecap="butt"/>
<line x1="1170.20" y1="630.02" x2="1173.90" y2="630.02" stroke="#000" stroke-width="2.0" stroke-linecap="butt"/>
<line x1="1170.20" y1="619.78" x2="1173.90" y2="619.78" stroke="#000" stroke-width="2.0" stroke-linecap="butt"/>
<line x1="1170.20" y1="609.54" x2="1173.90" y2="609.54" stroke="#000" stroke-width="2.0" stroke-linecap="butt"/>
<line x1="1168.90" y1="599.30" x2="1173.90" y2="599.30" stroke="#000" stroke-width="2.0" stroke-linecap="butt"/>
<line x1="1170.20" y1="589.06" x2="1173.90" y2="589.06" stroke="#000" stroke-width="2.0" stroke-linecap="butt"/>
<line x1="1170.20" y1="578.82" x2="1173.90" y2="578.82" stroke="#000" stroke-width="2.0" stroke-linecap="butt"/>
<line x1="1170.20" y1="568.58" x2="1173.90" y2="568.58" stroke="#000" stroke-width="2.0" stroke-linecap="butt"/>
<line x1="1170.20" y1="558.34" x2="1173.90" y2="558.34" stroke="#000" stroke-width="2.0" stroke-linecap="butt"/>
<line x1="1170.20" y1="548.10" x2="1173.90" y2="548.10" stroke="#000" stroke-width="2.0" stroke-linecap="butt"/>
<line x1="1170.20" y1="537.86" x2="1173.90" y2="537.86" stroke="#000" stroke-width="2.0" stroke-linecap="butt"/>
<line x1="1170.20" y1="527.62" x2="1173.90" y2="527.62" stroke="#000" stroke-width="2.0" stroke-linecap="butt"/>
<line x1="1170.20" y1="517.38" x2="1173.90" y2="517.38" stroke="#000" stroke-width="2.0" stroke-linecap="butt"/>
<line x1="1170.20" y1="507.14" x2="1173.90" y2="507.14" stroke="#000" stroke-width="2.0" stroke-linecap="butt"/>
<line x1="1168.90" y1="496.90" x2="1173.90" y2="496.90" stroke="#000" stroke-width="2.0" stroke-linecap="butt"/>
<line x1="1170.20" y1="486.66" x2="1173.90" y2="486.66" stroke="#000" stroke-width="2.0" stroke-linecap="butt"/>
<line x1="1170.20" y1="476.42" x2="1173.90" y2="476.42" stroke="#000" stroke-width="2.0" stroke-linecap="butt"/>
<line x1="1173.90" y1="743.00" x2="1173.90" y2="748.00" stroke="#000" stroke-width="3" stroke-linecap="butt"/>
<line x1="1260.30" y1="743.00" x2="1260.30" y2="748.00" stroke="#000" stroke-width="3" stroke-linecap="butt"/>
<line x1="1346.90" y1="743.00" x2="1346.90" y2="748.00" stroke="#000" stroke-width="3" stroke-linecap="butt"/>
<line x1="1433.50" y1="743.00" x2="1433.50" y2="748.00" stroke="#000" stroke-width="3" stroke-linecap="butt"/>
<line x1="1519.80" y1="743.00" x2="1519.80" y2="748.00" stroke="#000" stroke-width="3" stroke-linecap="butt"/>
<text x="1167.50" y="706.10" font-size="11.7" font-weight="normal" font-style="normal" text-anchor="end" fill="#000" >0</text>
<text x="1167.50" y="603.70" font-size="11.7" font-weight="normal" font-style="normal" text-anchor="end" fill="#000" >50</text>
<text x="1167.50" y="501.30" font-size="11.7" font-weight="normal" font-style="normal" text-anchor="end" fill="#000" >100</text>
<text x="1173.90" y="761.60" font-size="12.1" font-weight="normal" font-style="normal" text-anchor="middle" fill="#000" >-100</text>
<text x="1260.30" y="761.60" font-size="12.1" font-weight="normal" font-style="normal" text-anchor="middle" fill="#000" >0</text>
<text x="1346.90" y="761.60" font-size="12.1" font-weight="normal" font-style="normal" text-anchor="middle" fill="#000" >100</text>
<text x="1433.50" y="761.60" font-size="12.1" font-weight="normal" font-style="normal" text-anchor="middle" fill="#000" >200</text>
<text x="1519.80" y="761.60" font-size="12.1" font-weight="normal" font-style="normal" text-anchor="middle" fill="#000" >300</text>
<text x="1338.60" y="782.60" font-size="13.3" font-weight="normal" font-style="normal" text-anchor="middle" fill="#000" >Time (ms)</text>
<text x="1368.00" y="450.40" font-size="26.5" font-weight="bold" font-style="normal" text-anchor="middle" fill="#000" >2 Months Old</text>
<text transform="translate(1139.7 629.0) rotate(-90)" font-size="11.5" text-anchor="middle">µ</text>
<text transform="translate(1156.0 629.0) rotate(-90)" font-size="11.5" text-anchor="middle">V</text>
<line x1="1174.8" y1="1719.50" x2="1495.0" y2="1719.50" stroke="#000" stroke-width="1.4" stroke-dasharray="1.5 4.2"/>
<path d="M1209.0 1720.6Q1210.9 1718.0 1211.9 1719.3Q1212.8 1720.6 1214.1 1723.1Q1215.4 1725.6 1216.3 1723.1Q1217.3 1720.6 1218.2 1718.3Q1219.2 1716.1 1220.1 1718.3Q1221.1 1720.6 1222.1 1718.0Q1223.0 1715.5 1224.0 1713.6Q1224.9 1711.7 1225.9 1714.8Q1226.8 1718.0 1228.1 1719.9Q1229.4 1721.8 1230.3 1723.7Q1231.3 1725.6 1232.2 1722.5Q1233.2 1719.3 1234.1 1720.6Q1235.1 1721.8 1236.0 1719.9Q1237.0 1718.0 1237.9 1719.3Q1238.9 1720.6 1239.8 1721.8Q1240.8 1723.1 1241.7 1720.6Q1242.7 1718.0 1243.6 1715.5Q1244.6 1712.9 1245.5 1715.5Q1246.5 1718.0 1247.4 1719.9Q1248.4 1721.8 1249.3 1720.6Q1250.3 1719.3 1251.2 1721.2Q1252.2 1723.1 1253.2 1720.6Q1254.1 1718.0 1254.7 1716.1Q1255.4 1714.2 1256.3 1717.4Q1257.3 1720.6 1258.2 1724.4Q1259.2 1728.2 1259.8 1732.0Q1260.4 1735.8 1261.3 1736.7Q1262.1 1737.7 1262.9 1736.1Q1263.6 1734.5 1264.6 1735.2Q1265.5 1735.8 1266.5 1734.5Q1267.4 1733.3 1268.4 1730.7Q1269.3 1728.2 1270.3 1721.8Q1271.2 1715.5 1272.2 1702.8Q1273.1 1690.1 1274.1 1676.1Q1275.0 1662.2 1276.0 1648.2Q1277.0 1634.2 1277.9 1620.3Q1278.9 1606.3 1279.8 1592.4Q1280.8 1578.4 1281.6 1567.6Q1282.4 1556.8 1283.2 1552.1Q1283.9 1547.3 1284.7 1547.9Q1285.5 1548.6 1286.3 1549.5Q1287.1 1550.5 1287.9 1548.9Q1288.8 1547.3 1289.5 1547.0Q1290.3 1546.7 1290.9 1548.6Q1291.5 1550.5 1292.2 1555.5Q1292.8 1560.6 1293.6 1568.2Q1294.3 1575.9 1295.2 1583.5Q1296.0 1591.1 1296.9 1597.4Q1297.9 1603.8 1298.8 1608.9Q1299.8 1613.9 1300.8 1618.4Q1301.7 1622.8 1302.7 1627.3Q1303.6 1631.7 1304.6 1635.5Q1305.5 1639.3 1306.1 1643.8Q1306.8 1648.2 1307.4 1652.6Q1308.1 1657.1 1308.7 1660.3Q1309.3 1663.4 1310.3 1666.0Q1311.2 1668.5 1312.2 1670.4Q1313.1 1672.3 1314.1 1674.2Q1315.0 1676.1 1316.0 1677.1Q1316.9 1678.0 1317.9 1680.3Q1318.8 1682.5 1319.8 1685.0Q1320.7 1687.6 1321.7 1690.7Q1322.6 1693.9 1323.3 1693.3Q1323.9 1692.6 1324.6 1689.5Q1325.2 1686.3 1325.8 1685.3Q1326.5 1684.4 1327.1 1686.6Q1327.7 1688.8 1328.7 1692.6Q1329.6 1696.4 1330.6 1700.2Q1331.5 1704.1 1332.5 1706.6Q1333.4 1709.1 1334.7 1711.0Q1336.0 1712.9 1336.9 1711.7Q1337.9 1710.4 1338.8 1712.3Q1339.8 1714.2 1341.1 1713.6Q1342.3 1712.9 1343.3 1711.0Q1344.2 1709.1 1345.2 1709.8Q1346.1 1710.4 1347.1 1708.5Q1348.0 1706.6 1349.0 1707.9Q1349.9 1709.1 1350.9 1710.4Q1351.8 1711.7 1352.8 1709.8Q1353.7 1707.9 1354.7 1706.0Q1355.7 1704.1 1356.6 1705.3Q1357.6 1706.6 1358.5 1708.5Q1359.5 1710.4 1360.1 1711.0Q1360.8 1711.7 1361.7 1710.4Q1362.7 1709.1 1364.0 1712.3Q1365.2 1715.5 1366.5 1718.0Q1367.8 1720.6 1369.0 1722.5Q1370.3 1724.4 1371.6 1721.8Q1372.8 1719.3 1374.1 1718.7Q1375.4 1718.0 1376.7 1717.4Q1377.9 1716.8 1379.2 1716.1Q1380.5 1715.5 1381.7 1716.8Q1383.0 1718.0 1384.0 1719.9Q1384.9 1721.8 1385.9 1723.7Q1386.8 1725.6 1388.1 1723.7Q1389.4 1721.8 1390.6 1720.6Q1391.9 1719.3 1393.2 1717.4Q1394.4 1715.5 1395.7 1716.8Q1397.0 1718.0 1398.2 1720.6Q1399.5 1723.1 1400.5 1724.4Q1401.4 1725.6 1402.4 1723.1Q1403.3 1720.6 1404.6 1721.8Q1405.9 1723.1 1406.8 1725.0Q1407.8 1726.9 1408.7 1723.7Q1409.7 1720.6 1410.6 1718.7Q1411.6 1716.8 1412.5 1716.1Q1413.5 1715.5 1414.7 1716.8Q1416.0 1718.0 1417.3 1720.6Q1418.5 1723.1 1419.5 1725.6Q1420.4 1728.2 1421.4 1730.1Q1422.4 1732.0 1423.3 1733.3Q1424.3 1734.5 1425.2 1735.8Q1426.2 1737.1 1427.1 1736.1Q1428.1 1735.2 1429.0 1733.6Q1430.0 1732.0 1430.9 1727.5Q1431.9 1723.1 1432.5 1716.8Q1433.1 1710.4 1433.8 1702.8Q1434.4 1695.2 1435.4 1680.6Q1436.3 1666.0 1437.3 1653.3Q1438.2 1640.6 1439.2 1627.9Q1440.1 1615.2 1441.1 1604.4Q1442.0 1593.6 1443.0 1582.2Q1443.9 1570.8 1444.6 1563.8Q1445.2 1556.8 1445.8 1552.4Q1446.5 1547.9 1447.4 1546.3Q1448.4 1544.8 1449.3 1544.1Q1450.3 1543.5 1450.9 1545.1Q1451.5 1546.7 1452.2 1549.2Q1452.8 1551.7 1453.6 1554.3Q1454.3 1556.8 1455.0 1561.9Q1455.6 1567.0 1456.4 1573.3Q1457.3 1579.7 1458.2 1586.6Q1459.2 1593.6 1459.8 1598.1Q1460.4 1602.5 1461.1 1608.9Q1461.7 1615.2 1462.7 1619.0Q1463.6 1622.8 1464.2 1625.4Q1464.9 1627.9 1465.5 1632.3Q1466.1 1636.8 1467.1 1641.9Q1468.1 1646.9 1468.7 1652.0Q1469.3 1657.1 1470.0 1661.5Q1470.6 1666.0 1471.2 1666.9Q1471.9 1667.9 1472.4 1671.4Q1472.9 1674.9 1473.5 1677.4Q1474.1 1679.9 1474.8 1678.0Q1475.4 1676.1 1475.9 1675.2L1476.3 1674.2" fill="none" stroke="#128080" stroke-width="2.6" stroke-linejoin="round" stroke-linecap="round"/>
<path d="M1209.0 1716.8Q1210.9 1715.5 1211.9 1714.2Q1212.8 1712.9 1213.8 1714.5Q1214.8 1716.1 1215.7 1717.7Q1216.7 1719.3 1217.6 1721.2Q1218.6 1723.1 1219.5 1722.5Q1220.5 1721.8 1221.4 1719.9Q1222.4 1718.0 1223.3 1718.7Q1224.3 1719.3 1225.2 1721.2Q1226.2 1723.1 1227.1 1721.8Q1228.1 1720.6 1229.0 1718.3Q1230.0 1716.1 1230.9 1715.2Q1231.9 1714.2 1232.8 1716.1Q1233.8 1718.0 1234.7 1720.6Q1235.7 1723.1 1236.6 1721.8Q1237.6 1720.6 1238.6 1719.9Q1239.5 1719.3 1240.5 1720.6Q1241.4 1721.8 1242.4 1723.1Q1243.3 1724.4 1244.3 1725.6Q1245.2 1726.9 1246.2 1724.4Q1247.1 1721.8 1248.1 1719.9Q1249.0 1718.0 1250.0 1716.8Q1250.9 1715.5 1251.9 1714.8Q1252.8 1714.2 1253.8 1714.8Q1254.7 1715.5 1255.7 1716.8Q1256.6 1718.0 1257.6 1718.7Q1258.5 1719.3 1259.5 1719.9Q1260.4 1720.6 1261.4 1721.8Q1262.4 1723.1 1263.3 1724.4Q1264.3 1725.6 1265.2 1726.0Q1266.2 1726.3 1267.1 1725.3Q1268.1 1724.4 1269.0 1723.7Q1270.0 1723.1 1270.9 1722.5Q1271.9 1721.8 1272.8 1721.5Q1273.8 1721.2 1274.7 1721.5Q1275.7 1721.8 1276.6 1721.2Q1277.6 1720.6 1278.5 1719.6Q1279.5 1718.7 1280.4 1717.7Q1281.4 1716.8 1282.3 1715.8Q1283.3 1714.8 1284.2 1714.5Q1285.2 1714.2 1286.2 1713.6Q1287.1 1712.9 1288.1 1712.3Q1289.0 1711.7 1290.0 1711.0Q1290.9 1710.4 1291.9 1711.0Q1292.8 1711.7 1293.8 1712.6Q1294.7 1713.6 1295.7 1714.8Q1296.6 1716.1 1297.6 1717.7Q1298.5 1719.3 1299.5 1720.6Q1300.4 1721.8 1301.4 1720.9Q1302.3 1719.9 1303.3 1718.3Q1304.2 1716.8 1305.2 1714.8Q1306.1 1712.9 1307.1 1711.0Q1308.1 1709.1 1309.0 1707.5Q1310.0 1706.0 1310.6 1705.6Q1311.2 1705.3 1312.2 1706.6Q1313.1 1707.9 1314.1 1709.1Q1315.0 1710.4 1316.0 1710.7Q1316.9 1711.0 1317.9 1712.0Q1318.8 1712.9 1319.8 1714.5Q1320.7 1716.1 1322.0 1716.4Q1323.3 1716.8 1324.6 1716.1Q1325.8 1715.5 1326.8 1716.1Q1327.7 1716.8 1328.7 1717.1Q1329.6 1717.4 1330.6 1717.7Q1331.5 1718.0 1332.5 1717.1Q1333.4 1716.1 1334.4 1717.7Q1335.3 1719.3 1336.3 1720.6Q1337.2 1721.8 1338.2 1719.9Q1339.1 1718.0 1340.1 1717.1Q1341.1 1716.1 1342.0 1717.1Q1343.0 1718.0 1343.9 1718.7Q1344.9 1719.3 1345.8 1719.9Q1346.8 1720.6 1347.7 1719.3Q1348.7 1718.0 1349.6 1719.0Q1350.6 1719.9 1351.5 1718.3Q1352.5 1716.8 1353.4 1715.5Q1354.4 1714.2 1355.3 1716.1Q1356.3 1718.0 1357.2 1719.3Q1358.2 1720.6 1359.1 1719.3Q1360.1 1718.0 1360.8 1716.8Q1361.4 1715.5 1362.4 1712.9Q1363.3 1710.4 1364.3 1709.8Q1365.2 1709.1 1366.5 1710.4Q1367.8 1711.7 1369.0 1712.9Q1370.3 1714.2 1371.6 1715.5Q1372.8 1716.8 1374.1 1717.4Q1375.4 1718.0 1376.3 1716.8Q1377.3 1715.5 1378.2 1712.9Q1379.2 1710.4 1380.1 1709.8Q1381.1 1709.1 1382.1 1711.0Q1383.0 1712.9 1384.3 1714.2Q1385.5 1715.5 1386.8 1714.8Q1388.1 1714.2 1389.4 1715.2Q1390.6 1716.1 1391.9 1717.1Q1393.2 1718.0 1394.4 1719.3Q1395.7 1720.6 1397.0 1721.2Q1398.2 1721.8 1399.2 1719.9Q1400.1 1718.0 1401.1 1716.1Q1402.0 1714.2 1403.0 1713.6Q1403.9 1712.9 1404.9 1714.5Q1405.9 1716.1 1407.1 1714.5Q1408.4 1712.9 1409.3 1712.3Q1410.3 1711.7 1411.2 1712.9Q1412.2 1714.2 1413.2 1712.3Q1414.1 1710.4 1415.1 1711.0Q1416.0 1711.7 1417.3 1712.9Q1418.5 1714.2 1419.5 1713.9Q1420.4 1713.6 1421.4 1714.5Q1422.4 1715.5 1423.3 1716.4Q1424.3 1717.4 1425.2 1717.7Q1426.2 1718.0 1427.1 1717.1Q1428.1 1716.1 1429.0 1713.3Q1430.0 1710.4 1430.9 1709.5Q1431.9 1708.5 1432.8 1710.7Q1433.8 1712.9 1434.7 1714.2Q1435.7 1715.5 1436.6 1714.8Q1437.6 1714.2 1438.5 1711.7Q1439.5 1709.1 1440.4 1707.9Q1441.4 1706.6 1442.3 1707.9Q1443.3 1709.1 1444.2 1709.8Q1445.2 1710.4 1446.2 1707.2Q1447.1 1704.1 1448.1 1701.5Q1449.0 1699.0 1450.0 1700.9Q1450.9 1702.8 1451.9 1704.1Q1452.8 1705.3 1453.8 1707.2Q1454.7 1709.1 1455.7 1710.1Q1456.6 1711.0 1457.6 1710.7Q1458.5 1710.4 1459.5 1711.7Q1460.4 1712.9 1461.1 1713.6Q1461.7 1714.2 1462.7 1712.9Q1463.6 1711.7 1464.6 1709.8Q1465.5 1707.9 1466.5 1706.6Q1467.4 1705.3 1468.4 1706.0Q1469.3 1706.6 1470.3 1706.3Q1471.2 1706.0 1472.2 1706.9Q1473.1 1707.9 1474.1 1707.2Q1475.0 1706.6 1475.7 1706.3L1476.3 1706.0" fill="none" stroke="#FF0568" stroke-width="2.9" stroke-linejoin="round" stroke-linecap="round"/>
<path d="M1209.0 1724.4Q1210.3 1725.6 1211.3 1722.5Q1212.2 1719.3 1213.2 1720.6Q1214.1 1721.8 1215.1 1719.9Q1216.0 1718.0 1217.0 1719.3Q1217.9 1720.6 1218.9 1719.9Q1219.8 1719.3 1220.8 1717.4Q1221.7 1715.5 1222.7 1716.8Q1223.6 1718.0 1224.6 1719.3Q1225.5 1720.6 1226.5 1719.3Q1227.4 1718.0 1228.4 1718.7Q1229.4 1719.3 1230.3 1718.3Q1231.3 1717.4 1232.2 1718.3Q1233.2 1719.3 1234.1 1718.0Q1235.1 1716.8 1236.0 1716.4Q1237.0 1716.1 1237.9 1717.7Q1238.9 1719.3 1239.8 1721.2Q1240.8 1723.1 1241.7 1721.8Q1242.7 1720.6 1243.6 1721.8Q1244.6 1723.1 1245.5 1721.2Q1246.5 1719.3 1247.4 1719.9Q1248.4 1720.6 1249.0 1718.7Q1249.7 1716.8 1250.3 1715.8Q1250.9 1714.8 1251.6 1716.4Q1252.2 1718.0 1252.8 1721.8Q1253.5 1725.6 1254.1 1727.9Q1254.7 1730.1 1255.4 1727.9Q1256.0 1725.6 1257.0 1723.1Q1257.9 1720.6 1258.5 1721.8Q1259.2 1723.1 1260.1 1725.6Q1261.1 1728.2 1262.0 1728.8Q1263.0 1729.4 1263.9 1730.7Q1264.9 1732.0 1265.8 1732.6Q1266.8 1733.3 1267.7 1733.9Q1268.7 1734.5 1269.7 1733.3Q1270.6 1732.0 1271.6 1727.5Q1272.5 1723.1 1273.5 1720.6Q1274.4 1718.0 1275.4 1714.2Q1276.3 1710.4 1277.3 1702.8Q1278.2 1695.2 1278.9 1690.7Q1279.5 1686.3 1280.3 1685.7Q1281.1 1685.0 1281.9 1686.3Q1282.7 1687.6 1283.6 1689.5Q1284.6 1691.4 1285.5 1693.3Q1286.5 1695.2 1287.4 1697.1Q1288.4 1699.0 1289.3 1700.2Q1290.3 1701.5 1290.9 1702.2Q1291.5 1702.8 1292.3 1700.2Q1293.1 1697.7 1293.7 1692.6Q1294.3 1687.6 1295.0 1685.0Q1295.6 1682.5 1296.2 1682.2Q1296.9 1681.8 1297.7 1683.4Q1298.5 1685.0 1299.4 1688.8Q1300.2 1692.6 1300.9 1697.1Q1301.7 1701.5 1302.7 1703.4Q1303.6 1705.3 1304.6 1704.7Q1305.5 1704.1 1306.5 1704.7Q1307.4 1705.3 1308.4 1704.1Q1309.3 1702.8 1310.3 1701.5Q1311.2 1700.2 1312.2 1700.6Q1313.1 1700.9 1313.8 1698.7Q1314.4 1696.4 1315.0 1695.2Q1315.7 1693.9 1316.3 1694.5Q1316.9 1695.2 1317.6 1697.7Q1318.2 1700.2 1319.2 1702.8Q1320.1 1705.3 1321.1 1707.2Q1322.0 1709.1 1323.0 1710.4Q1323.9 1711.7 1324.9 1712.9Q1325.8 1714.2 1326.8 1713.3Q1327.7 1712.3 1328.7 1712.6Q1329.6 1712.9 1330.6 1712.3Q1331.5 1711.7 1332.5 1713.6Q1333.4 1715.5 1334.4 1718.7Q1335.3 1721.8 1336.3 1720.6Q1337.2 1719.3 1338.2 1716.8Q1339.1 1714.2 1340.1 1715.5Q1341.1 1716.8 1342.0 1715.5Q1343.0 1714.2 1343.9 1712.9Q1344.9 1711.7 1345.8 1712.9Q1346.8 1714.2 1347.7 1714.8Q1348.7 1715.5 1349.6 1714.2Q1350.6 1712.9 1351.5 1711.7Q1352.5 1710.4 1353.4 1709.8Q1354.4 1709.1 1355.3 1710.4Q1356.3 1711.7 1357.2 1711.0Q1358.2 1710.4 1359.1 1709.8Q1360.1 1709.1 1361.1 1709.8Q1362.1 1710.4 1363.0 1714.2Q1364.0 1718.0 1364.9 1716.1Q1365.9 1714.2 1366.8 1713.6Q1367.8 1712.9 1369.0 1713.3Q1370.3 1713.6 1371.6 1712.6Q1372.8 1711.7 1374.1 1711.0Q1375.4 1710.4 1376.3 1712.3Q1377.3 1714.2 1378.2 1717.1Q1379.2 1719.9 1380.1 1717.1Q1381.1 1714.2 1382.1 1710.4Q1383.0 1706.6 1384.0 1708.5Q1384.9 1710.4 1385.9 1712.9Q1386.8 1715.5 1388.1 1713.6Q1389.4 1711.7 1390.3 1712.3Q1391.3 1712.9 1392.5 1714.2Q1393.8 1715.5 1394.7 1713.6Q1395.7 1711.7 1396.6 1711.0Q1397.6 1710.4 1398.6 1711.7Q1399.5 1712.9 1400.5 1714.2Q1401.4 1715.5 1402.7 1716.8Q1403.9 1718.0 1405.2 1717.4Q1406.5 1716.8 1407.8 1716.1Q1409.0 1715.5 1410.0 1716.1Q1410.9 1716.8 1411.9 1714.8Q1412.8 1712.9 1413.8 1712.3Q1414.7 1711.7 1415.7 1712.9Q1416.6 1714.2 1417.6 1714.8Q1418.5 1715.5 1419.5 1714.8Q1420.4 1714.2 1421.4 1716.1Q1422.4 1718.0 1423.3 1719.3Q1424.3 1720.6 1425.2 1720.9Q1426.2 1721.2 1427.4 1721.2Q1428.7 1721.2 1430.0 1720.2Q1431.2 1719.3 1432.5 1718.7Q1433.8 1718.0 1435.0 1718.0Q1436.3 1718.0 1437.3 1714.2Q1438.2 1710.4 1438.9 1700.9Q1439.5 1691.4 1440.1 1688.2Q1440.8 1685.0 1441.4 1684.7Q1442.0 1684.4 1442.7 1685.3Q1443.3 1686.3 1443.9 1686.9Q1444.6 1687.6 1445.2 1686.3Q1445.8 1685.0 1446.8 1685.0Q1447.7 1685.0 1448.4 1686.9Q1449.0 1688.8 1449.6 1691.4Q1450.3 1693.9 1450.9 1695.8Q1451.5 1697.7 1452.3 1699.0Q1453.1 1700.2 1453.9 1698.3Q1454.7 1696.4 1455.4 1693.3Q1456.0 1690.1 1456.8 1687.6Q1457.6 1685.0 1458.4 1684.1Q1459.2 1683.1 1459.9 1682.8Q1460.7 1682.5 1461.5 1681.2Q1462.3 1679.9 1463.0 1681.8Q1463.6 1683.7 1464.2 1686.9Q1464.9 1690.1 1465.5 1692.6Q1466.1 1695.2 1466.8 1697.1Q1467.4 1699.0 1467.9 1699.6Q1468.3 1700.2 1468.8 1697.1Q1469.3 1693.9 1469.8 1692.6Q1470.3 1691.4 1471.0 1693.9Q1471.6 1696.4 1472.2 1698.3Q1472.9 1700.2 1473.5 1700.9Q1474.1 1701.5 1474.6 1699.6Q1475.0 1697.7 1475.7 1695.8L1476.3 1693.9" fill="none" stroke="#000" stroke-width="3.0" stroke-linejoin="round" stroke-linecap="round"/>
<line x1="1168.80" y1="1503.30" x2="1168.80" y2="1756.00" stroke="#000" stroke-width="3" stroke-linecap="butt"/>
<line x1="1167.30" y1="1754.50" x2="1495.00" y2="1754.50" stroke="#000" stroke-width="3" stroke-linecap="butt"/>
<line x1="1165.10" y1="1755.34" x2="1168.80" y2="1755.34" stroke="#000" stroke-width="2.0" stroke-linecap="butt"/>
<line x1="1165.10" y1="1746.38" x2="1168.80" y2="1746.38" stroke="#000" stroke-width="2.0" stroke-linecap="butt"/>
<line x1="1165.10" y1="1737.42" x2="1168.80" y2="1737.42" stroke="#000" stroke-width="2.0" stroke-linecap="butt"/>
<line x1="1165.10" y1="1728.46" x2="1168.80" y2="1728.46" stroke="#000" stroke-width="2.0" stroke-linecap="butt"/>
<line x1="1163.80" y1="1719.50" x2="1168.80" y2="1719.50" stroke="#000" stroke-width="2.0" stroke-linecap="butt"/>
<line x1="1165.10" y1="1710.54" x2="1168.80" y2="1710.54" stroke="#000" stroke-width="2.0" stroke-linecap="butt"/>
<line x1="1165.10" y1="1701.58" x2="1168.80" y2="1701.58" stroke="#000" stroke-width="2.0" stroke-linecap="butt"/>
<line x1="1165.10" y1="1692.62" x2="1168.80" y2="1692.62" stroke="#000" stroke-width="2.0" stroke-linecap="butt"/>
<line x1="1165.10" y1="1683.66" x2="1168.80" y2="1683.66" stroke="#000" stroke-width="2.0" stroke-linecap="butt"/>
<line x1="1165.10" y1="1674.70" x2="1168.80" y2="1674.70" stroke="#000" stroke-width="2.0" stroke-linecap="butt"/>
<line x1="1165.10" y1="1665.74" x2="1168.80" y2="1665.74" stroke="#000" stroke-width="2.0" stroke-linecap="butt"/>
<line x1="1165.10" y1="1656.78" x2="1168.80" y2="1656.78" stroke="#000" stroke-width="2.0" stroke-linecap="butt"/>
<line x1="1165.10" y1="1647.82" x2="1168.80" y2="1647.82" stroke="#000" stroke-width="2.0" stroke-linecap="butt"/>
<line x1="1165.10" y1="1638.86" x2="1168.80" y2="1638.86" stroke="#000" stroke-width="2.0" stroke-linecap="butt"/>
<line x1="1163.80" y1="1629.90" x2="1168.80" y2="1629.90" stroke="#000" stroke-width="2.0" stroke-linecap="butt"/>
<line x1="1165.10" y1="1620.94" x2="1168.80" y2="1620.94" stroke="#000" stroke-width="2.0" stroke-linecap="butt"/>
<line x1="1165.10" y1="1611.98" x2="1168.80" y2="1611.98" stroke="#000" stroke-width="2.0" stroke-linecap="butt"/>
<line x1="1165.10" y1="1603.02" x2="1168.80" y2="1603.02" stroke="#000" stroke-width="2.0" stroke-linecap="butt"/>
<line x1="1165.10" y1="1594.06" x2="1168.80" y2="1594.06" stroke="#000" stroke-width="2.0" stroke-linecap="butt"/>
<line x1="1165.10" y1="1585.10" x2="1168.80" y2="1585.10" stroke="#000" stroke-width="2.0" stroke-linecap="butt"/>
<line x1="1165.10" y1="1576.14" x2="1168.80" y2="1576.14" stroke="#000" stroke-width="2.0" stroke-linecap="butt"/>
<line x1="1165.10" y1="1567.18" x2="1168.80" y2="1567.18" stroke="#000" stroke-width="2.0" stroke-linecap="butt"/>
<line x1="1165.10" y1="1558.22" x2="1168.80" y2="1558.22" stroke="#000" stroke-width="2.0" stroke-linecap="butt"/>
<line x1="1165.10" y1="1549.26" x2="1168.80" y2="1549.26" stroke="#000" stroke-width="2.0" stroke-linecap="butt"/>
<line x1="1163.80" y1="1540.30" x2="1168.80" y2="1540.30" stroke="#000" stroke-width="2.0" stroke-linecap="butt"/>
<line x1="1165.10" y1="1531.34" x2="1168.80" y2="1531.34" stroke="#000" stroke-width="2.0" stroke-linecap="butt"/>
<line x1="1165.10" y1="1522.38" x2="1168.80" y2="1522.38" stroke="#000" stroke-width="2.0" stroke-linecap="butt"/>
<line x1="1165.10" y1="1513.42" x2="1168.80" y2="1513.42" stroke="#000" stroke-width="2.0" stroke-linecap="butt"/>
<line x1="1165.10" y1="1504.46" x2="1168.80" y2="1504.46" stroke="#000" stroke-width="2.0" stroke-linecap="butt"/>
<line x1="1168.80" y1="1754.50" x2="1168.80" y2="1759.50" stroke="#000" stroke-width="3" stroke-linecap="butt"/>
<line x1="1250.00" y1="1754.50" x2="1250.00" y2="1759.50" stroke="#000" stroke-width="3" stroke-linecap="butt"/>
<line x1="1331.00" y1="1754.50" x2="1331.00" y2="1759.50" stroke="#000" stroke-width="3" stroke-linecap="butt"/>
<line x1="1412.20" y1="1754.50" x2="1412.20" y2="1759.50" stroke="#000" stroke-width="3" stroke-linecap="butt"/>
<line x1="1493.50" y1="1754.50" x2="1493.50" y2="1759.50" stroke="#000" stroke-width="3" stroke-linecap="butt"/>
<text x="1162.00" y="1723.90" font-size="11.8" font-weight="bold" font-style="normal" text-anchor="end" fill="#000" class="dv">0</text>
<text x="1162.00" y="1634.30" font-size="11.8" font-weight="bold" font-style="normal" text-anchor="end" fill="#000" class="dv">50</text>
<text x="1162.00" y="1544.70" font-size="11.8" font-weight="bold" font-style="normal" text-anchor="end" fill="#000" class="dv">100</text>
<text x="1168.80" y="1773.10" font-size="12.200000000000001" font-weight="bold" font-style="normal" text-anchor="middle" fill="#000" class="dv">-100</text>
<text x="1250.00" y="1773.10" font-size="12.200000000000001" font-weight="bold" font-style="normal" text-anchor="middle" fill="#000" class="dv">0</text>
<text x="1331.00" y="1773.10" font-size="12.200000000000001" font-weight="bold" font-style="normal" text-anchor="middle" fill="#000" class="dv">100</text>
<text x="1412.20" y="1773.10" font-size="12.200000000000001" font-weight="bold" font-style="normal" text-anchor="middle" fill="#000" class="dv">200</text>
<text x="1493.50" y="1773.10" font-size="12.200000000000001" font-weight="bold" font-style="normal" text-anchor="middle" fill="#000" class="dv">300</text>
<text x="1331.00" y="1795.70" font-size="13.3" font-weight="normal" font-style="normal" text-anchor="middle" fill="#000" >Time (ms)</text>
<text x="1368.00" y="1492.40" font-size="26.5" font-weight="bold" font-style="normal" text-anchor="middle" fill="#000" >2 Months Old</text>
<text transform="translate(1126.5 1629.8) rotate(-90)" font-size="11.5" text-anchor="middle">µ</text>
<text transform="translate(1142.3 1629.8) rotate(-90)" font-size="11.5" text-anchor="middle">V</text>
</svg>
</body>
</html>
